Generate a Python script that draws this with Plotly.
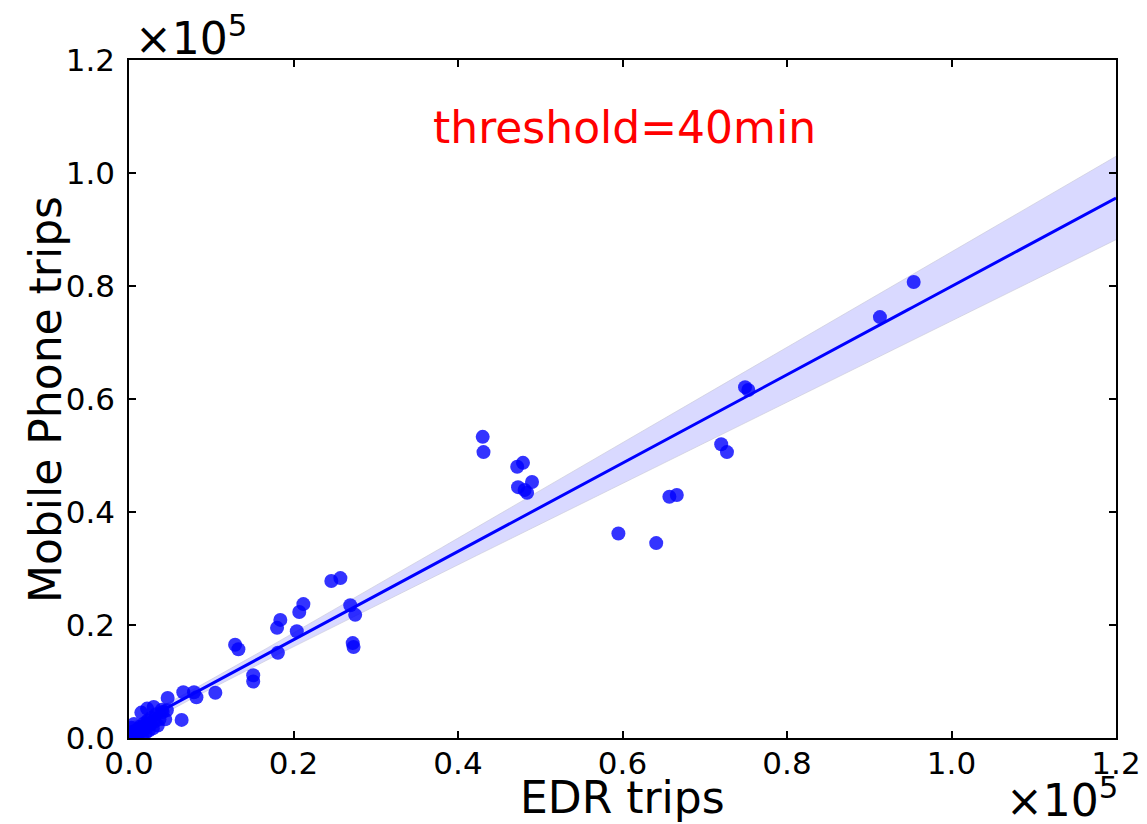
import numpy as np
import plotly.graph_objects as go

# EDR trips (x) and Mobile Phone trips (y)
edr_trips = [95400, 91300, 74900, 75300, 72000, 72700, 65700, 66600, 59500, 64100,
             43000, 43100, 47200, 47900, 47300, 48100, 48400, 49000,
             24600, 25700, 26900, 27500, 27200, 27300, 21200, 20700, 18400, 18000,
             20400, 18100, 12900, 13300, 15100, 15100, 10500,
             4700, 6600, 7900, 8200, 6400, 4400, 4100,
             200, 400, 500, 700, 800, 1000, 1100, 1300, 1400, 1600, 1700, 1900,
             2000, 2100, 2300, 2400, 2600, 2700, 2900, 3100, 3300, 3500, 3700,
             4000, 4600, 300, 600, 100, 1500, 2200, 3000]
phone_trips = [80700, 74500, 62100, 61600, 52000, 50600, 42700, 43000, 36200, 34500,
               53300, 50600, 48000, 48700, 44400, 43900, 43400, 45300,
               27800, 28300, 23500, 21800, 16800, 16100, 23700, 22300, 20900, 19500,
               18900, 15100, 16500, 15700, 11100, 10000, 8000,
               7100, 8100, 8100, 7200, 3200, 3300, 4600,
               300, 100, 700, 300, 1200, 600, 1600, 1000, 2100, 400, 1400, 2600,
               900, 1900, 3100, 1300, 2400, 3600, 1700, 2900, 4200, 2200, 3300,
               5000, 4900, 1800, 2500, 1000, 4500, 5200, 5500]

tick_vals = [0, 20000, 40000, 60000, 80000, 100000, 120000]
tick_text = ["0.0", "0.2", "0.4", "0.6", "0.8", "1.0", "1.2"]

annotation_text = "threshold=40min"
x_title = "EDR trips"
y_title = "Mobile Phone trips"

# Linear fit with a 95% band (robust HC3 errors, akin to a pairs bootstrap)
x = np.array(edr_trips, dtype=float)
y = np.array(phone_trips, dtype=float)
n = len(x)
X = np.column_stack([np.ones(n), x])
XtX_inv = np.linalg.inv(X.T @ X)
beta = XtX_inv @ X.T @ y
resid = y - X @ beta
h = np.einsum("ij,jk,ik->i", X, XtX_inv, X)
w = (resid / (1 - h)) ** 2
cov = XtX_inv @ (X.T * w) @ X @ XtX_inv
xg = np.linspace(0, 120000, 200)
G = np.column_stack([np.ones_like(xg), xg])
yg = G @ beta
se = np.sqrt(np.einsum("ij,jk,ik->i", G, cov, G))
tcrit = 1.993
upper = yg + tcrit * se
lower = yg - tcrit * se

fig = go.Figure()
fig.add_trace(go.Scatter(x=xg, y=upper, mode="lines", line=dict(width=0.8, color="rgba(200,200,215,0.8)"),
                         hoverinfo="skip", showlegend=False))
fig.add_trace(go.Scatter(x=xg, y=lower, mode="lines", line=dict(width=0.8, color="rgba(200,200,215,0.8)"),
                         fill="tonexty", fillcolor="rgba(0,0,255,0.15)", hoverinfo="skip", showlegend=False))
fig.add_trace(go.Scatter(x=x, y=y, mode="markers",
                         marker=dict(size=14, color="rgba(0,0,255,0.8)", line=dict(width=0)),
                         showlegend=False))
fig.add_trace(go.Scatter(x=xg, y=yg, mode="lines", line=dict(color="#0000ff", width=3),
                         showlegend=False))

axis_common = dict(
    showgrid=False, zeroline=False, showline=True, linecolor="black", linewidth=1.5,
    mirror="ticks", ticks="inside", ticklen=7, tickwidth=1.5, tickcolor="black",
    tickvals=tick_vals, ticktext=tick_text, range=[0, 120000], automargin=False,
    tickfont=dict(family="DejaVu Sans", size=31, color="black"),
)
fig.update_xaxes(**axis_common, ticklabelstandoff=-3)
fig.update_yaxes(**axis_common, ticklabelstandoff=6)

fig.update_layout(
    width=1147, height=824,
    margin=dict(l=129, r=31, t=60, b=86),
    plot_bgcolor="white", paper_bgcolor="white",
    font=dict(family="DejaVu Sans", color="black"),
    annotations=[
        dict(text=annotation_text, x=(624 - 129) / 987, y=(738 - 128) / 678, xref="paper", yref="paper",
             showarrow=False, font=dict(size=44, color="red"), xanchor="center", yanchor="middle"),
        dict(text=x_title, x=(622 - 129) / 987, y=(738 - 798) / 678, xref="paper", yref="paper",
             showarrow=False, font=dict(size=44), xanchor="center", yanchor="middle"),
        dict(text=y_title, x=(45 - 129) / 987, y=(738 - 400) / 678, xref="paper", yref="paper",
             showarrow=False, font=dict(size=44), xanchor="center", yanchor="middle", textangle=-90),
        dict(text="×10<sup>5</sup>", x=(133 - 129) / 987, y=(738 - 36) / 678, xref="paper", yref="paper",
             showarrow=False, font=dict(size=44), xanchor="left", yanchor="middle"),
        dict(text="×10<sup>5</sup>", x=(1004 - 129) / 987, y=(738 - 798) / 678, xref="paper", yref="paper",
             showarrow=False, font=dict(size=44), xanchor="left", yanchor="middle"),
    ],
)

fig.write_html("out.html")
